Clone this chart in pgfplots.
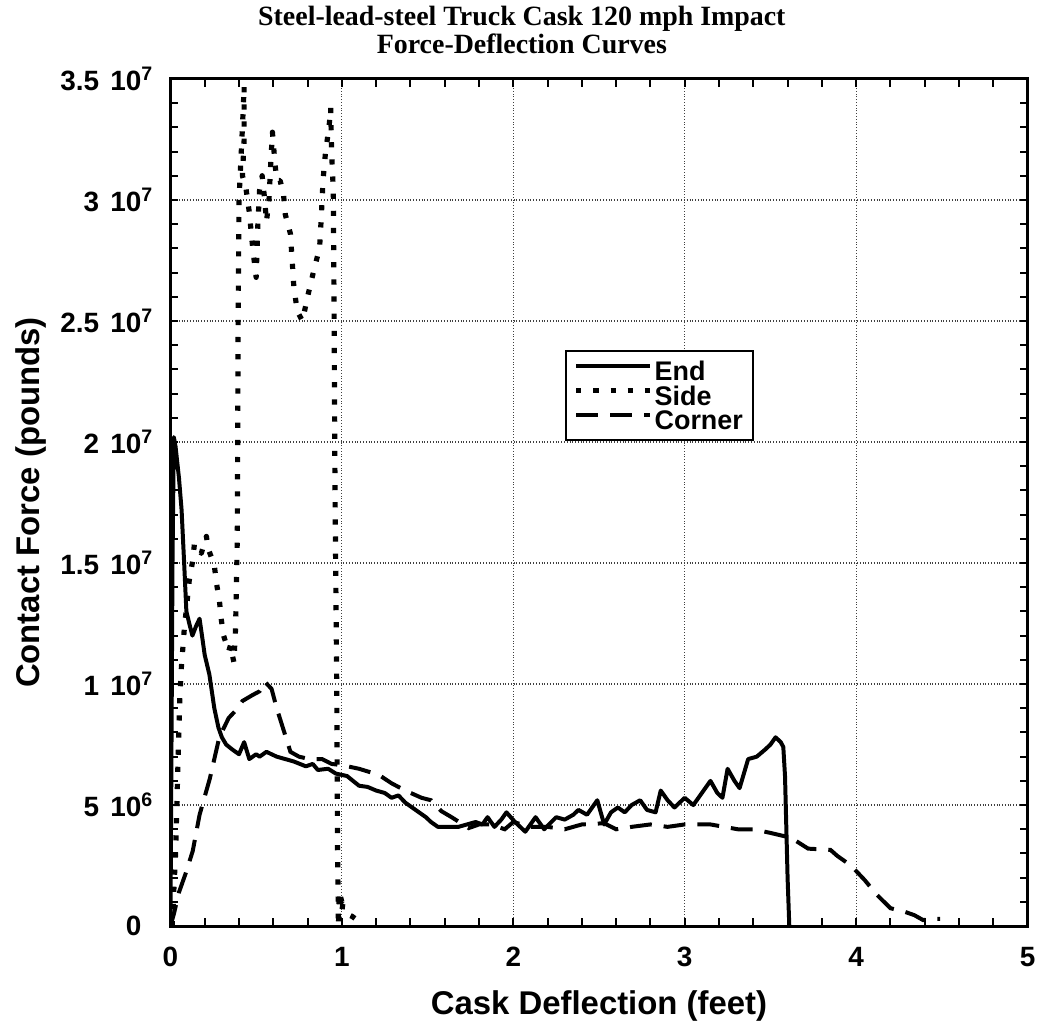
\documentclass[border=0pt]{standalone}
\usepackage{pgfplots}
\pgfplotsset{compat=1.18}
\usepackage{fontspec}
\setmainfont{Liberation Sans}
\newfontfamily\titlefont{Liberation Serif}
\newcommand{\tl}[2]{#1\hspace{0.4em}10\rlap{\textsuperscript{#2}}}

\begin{document}
\begin{tikzpicture}
\begin{axis}[
  name=ax,
  scale only axis,
  width=430pt, height=425pt,
  xmin=0, xmax=5, ymin=0, ymax=3.5e7,
  xtick={0,1,2,3,4,5},
  xticklabels={0,1,2,3,4,5},
  ytick={0,5e6,1e7,1.5e7,2e7,2.5e7,3e7,3.5e7},
  yticklabels={0,\tl{5}{6},\tl{1}{7},\tl{1.5}{7},\tl{2}{7},\tl{2.5}{7},\tl{3}{7},\tl{3.5}{7}},
  scaled y ticks=false,
  minor x tick num=4, minor y tick num=4,
  tick align=inside,
  major tick length=4pt, minor tick length=4pt,
  every tick/.style={black, line width=1pt},
  grid=major,
  major grid style={densely dotted, line width=0.6pt, black!75},
  axis line style={line width=1.5pt},
  ticklabel style={font=\fontsize{14}{16}\selectfont\bfseries},
  xticklabel style={yshift=-7pt},
  yticklabel style={xshift=-11pt},
  xlabel={Cask Deflection (feet)},
  ylabel={Contact Force (pounds)},
  xlabel style={yshift=-5pt},
  label style={font=\fontsize{16.5}{18}\selectfont\bfseries},
  title={Steel-lead-steel Truck Cask 120 mph Impact\\Force-Deflection Curves},
  title style={font=\titlefont\fontsize{14}{11}\selectfont\bfseries, align=center, at={(0.41,1)}, anchor=south, yshift=3pt},
  legend style={at={(0.46,0.68)}, anchor=north west, draw=black, line width=1pt,
    font=\fontsize{13.5}{13.5}\selectfont\bfseries, inner sep=4pt, row sep=0.3pt,
    nodes={inner sep=1pt, text height=10pt, text depth=0pt},
    cells={anchor=west}},
  legend image code/.code={\draw[#1] (0pt,2.5pt) -- (37pt,2.5pt);},
]
\addplot[black, line width=2pt, line join=round] coordinates {
(0,0) (0.005,0.6e7) (0.012,1.5e7) (0.02,2.02e7) (0.03,1.98e7) (0.05,1.85e7)
(0.065,1.72e7) (0.08,1.50e7) (0.093,1.30e7) (0.11,1.25e7) (0.128,1.20e7)
(0.15,1.24e7) (0.17,1.27e7) (0.20,1.12e7) (0.227,1.04e7) (0.256,0.90e7)
(0.28,0.82e7) (0.30,0.78e7) (0.325,0.75e7) (0.36,0.73e7) (0.40,0.71e7)
(0.43,0.76e7) (0.46,0.69e7) (0.50,0.71e7) (0.52,0.70e7) (0.56,0.72e7)
(0.62,0.70e7) (0.67,0.69e7) (0.72,0.68e7) (0.79,0.66e7) (0.83,0.67e7)
(0.86,0.645e7) (0.92,0.65e7) (0.965,0.63e7) (1.03,0.62e7) (1.10,0.58e7)
(1.15,0.575e7) (1.20,0.56e7) (1.25,0.55e7) (1.29,0.53e7) (1.33,0.54e7)
(1.37,0.51e7) (1.41,0.49e7) (1.45,0.47e7) (1.49,0.45e7) (1.52,0.43e7)
(1.56,0.41e7) (1.62,0.41e7) (1.68,0.41e7) (1.73,0.42e7) (1.78,0.43e7)
(1.82,0.42e7) (1.85,0.45e7) (1.89,0.41e7) (1.93,0.44e7) (1.96,0.47e7)
(2.01,0.43e7) (2.07,0.39e7) (2.13,0.45e7) (2.18,0.40e7) (2.25,0.45e7)
(2.30,0.44e7) (2.35,0.46e7) (2.38,0.48e7) (2.43,0.46e7) (2.49,0.52e7)
(2.53,0.42e7) (2.57,0.47e7) (2.61,0.49e7) (2.65,0.47e7) (2.69,0.50e7)
(2.74,0.52e7) (2.78,0.48e7) (2.83,0.47e7) (2.86,0.56e7) (2.90,0.52e7)
(2.94,0.49e7) (3.00,0.53e7) (3.05,0.50e7) (3.10,0.55e7) (3.15,0.60e7)
(3.19,0.55e7) (3.22,0.53e7) (3.25,0.65e7) (3.29,0.60e7) (3.32,0.57e7)
(3.37,0.69e7) (3.42,0.70e7) (3.47,0.73e7) (3.50,0.75e7) (3.53,0.78e7)
(3.56,0.76e7) (3.575,0.74e7) (3.585,0.62e7) (3.60,0.2e7) (3.61,0)
};
\addlegendentry{End}
\addplot[black, line width=2.6pt, line join=round, dash pattern=on 2.6pt off 6pt] coordinates {
(0.01,0) (0.03,0.3e7) (0.045,0.7e7) (0.055,0.95e7) (0.064,1.07e7) (0.08,1.22e7)
(0.11,1.43e7) (0.13,1.51e7) (0.14,1.58e7) (0.18,1.54e7) (0.21,1.61e7)
(0.22,1.56e7) (0.256,1.49e7) (0.27,1.41e7) (0.285,1.35e7) (0.296,1.27e7)
(0.31,1.20e7) (0.34,1.135e7) (0.35,1.16e7) (0.37,1.09e7) (0.38,1.23e7)
(0.39,1.6e7) (0.395,2.5e7) (0.40,3.0e7) (0.42,3.3e7) (0.43,3.47e7)
(0.43,3.25e7) (0.42,3.1e7) (0.44,3.05e7) (0.46,2.95e7) (0.48,2.8e7)
(0.50,2.68e7) (0.51,2.9e7) (0.52,3.04e7) (0.535,3.10e7) (0.55,3.0e7)
(0.56,2.91e7) (0.575,3.0e7) (0.585,3.15e7) (0.595,3.28e7) (0.61,3.15e7)
(0.62,3.08e7) (0.64,3.08e7) (0.66,3.02e7) (0.67,2.94e7) (0.70,2.86e7)
(0.71,2.75e7) (0.72,2.64e7) (0.74,2.54e7) (0.77,2.50e7) (0.80,2.60e7)
(0.84,2.72e7) (0.87,2.80e7) (0.88,2.93e7) (0.89,3.08e7) (0.905,3.2e7)
(0.925,3.3e7) (0.935,3.38e7) (0.94,3.2e7) (0.95,3.04e7) (0.955,2.5e7)
(0.96,1.8e7) (0.97,1.0e7) (0.975,0.3e7) (0.98,0) (0.985,0.14e7)
(1.0,0.1e7) (1.01,0.12e7) (1.0,0.06e7) (1.06,0.04e7) (1.12,0.01e7)
};
\addlegendentry{Side}
\addplot[black, line width=2pt, dash pattern=on 11pt off 6pt] coordinates {
(0,0) (0.02,0.05e7) (0.05,0.14e7) (0.09,0.22e7) (0.13,0.31e7) (0.17,0.46e7)
(0.23,0.61e7) (0.285,0.78e7) (0.34,0.86e7) (0.38,0.89e7) (0.42,0.93e7)
(0.48,0.955e7) (0.52,0.97e7) (0.55,1.01e7) (0.59,0.98e7) (0.62,0.90e7)
(0.66,0.81e7) (0.70,0.72e7) (0.75,0.70e7) (0.81,0.69e7) (0.885,0.69e7)
(0.94,0.67e7) (1.0,0.665e7) (1.10,0.65e7) (1.215,0.625e7) (1.29,0.59e7)
(1.37,0.56e7) (1.465,0.53e7) (1.52,0.52e7) (1.58,0.475e7) (1.64,0.45e7)
(1.74,0.405e7) (1.80,0.42e7) (1.87,0.42e7) (1.95,0.40e7) (2.0,0.43e7)
(2.10,0.41e7) (2.20,0.41e7) (2.30,0.40e7) (2.40,0.42e7) (2.53,0.425e7)
(2.60,0.40e7) (2.69,0.41e7) (2.80,0.42e7) (2.90,0.41e7) (3.0,0.42e7)
(3.06,0.42e7) (3.15,0.42e7) (3.31,0.40e7) (3.40,0.40e7) (3.50,0.385e7)
(3.62,0.365e7) (3.72,0.32e7) (3.85,0.315e7) (3.89,0.29e7) (3.97,0.25e7)
(4.05,0.19e7) (4.12,0.13e7) (4.20,0.074e7) (4.28,0.06e7) (4.34,0.045e7)
(4.39,0.025e7) (4.45,0.03e7) (4.49,0.03e7)
};
\addlegendentry{Corner}
\end{axis}
\path (ax.south west) ++(-85.5pt,-49pt) coordinate (bbsw);
\path (ax.north east) ++(5.5pt,39pt) coordinate (bbne);
\path (bbsw) rectangle (bbne);
\end{tikzpicture}
\end{document}
